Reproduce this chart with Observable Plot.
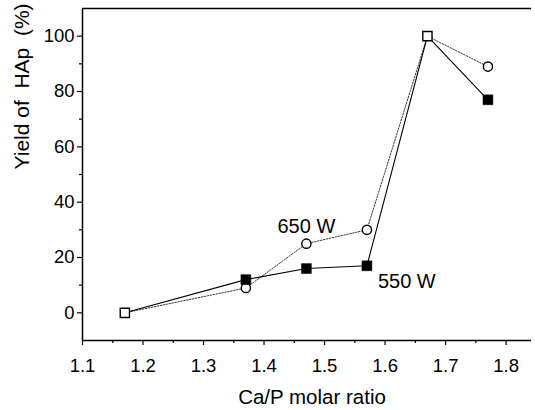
<!DOCTYPE html>
<html>
<head>
<meta charset="utf-8">
<script src="https://cdn.jsdelivr.net/npm/d3@7"></script>
<script src="https://cdn.jsdelivr.net/npm/@observablehq/plot@0.6"></script>
<style>
  html, body { margin: 0; padding: 0; background: #fff; }
  #chart svg { display: block; }
</style>
</head>
<body>
<div id="chart"></div>
<script>
// Data
const ratio = [1.17, 1.37, 1.47, 1.57, 1.67, 1.77];
const yield650 = [0, 9, 25, 30, 100, 89];
const yield550 = [0, 12, 16, 17, 100, 77];
const seriesNames = ["650 W", "550 W"];
const labelX = [1.47, 1.636];
const labelY = [31.2, 11.3];
const xTicks = [1.1, 1.2, 1.3, 1.4, 1.5, 1.6, 1.7, 1.8];
const xMinor = [1.15, 1.25, 1.35, 1.45, 1.55, 1.65, 1.75];
const yTicks = [0, 20, 40, 60, 80, 100];
const yMinor = [10, 30, 50, 70, 90];

const d650 = ratio.map((x, i) => ({x, y: yield650[i]}));
const d550 = ratio.map((x, i) => ({x, y: yield550[i]}));
const shared = ratio.map((x, i) => ({x, y: yield550[i], same: yield550[i] === yield650[i]})).filter(d => d.same);
const only650 = d650.filter((d, i) => yield650[i] !== yield550[i]);
const only550 = d550.filter((d, i) => yield650[i] !== yield550[i]);
const labels = seriesNames.map((t, i) => ({t, x: labelX[i], y: labelY[i]}));

const chart = Plot.plot({
  width: 535,
  height: 410,
  marginLeft: 82,
  marginRight: 4,
  marginTop: 8,
  marginBottom: 70,
  style: {fontFamily: "'Liberation Sans', Arial, sans-serif", background: "#fff", color: "#000"},
  x: {domain: [1.1, 1.842]},
  y: {domain: [-10, 110]},
  marks: [
    Plot.axisX({ticks: xTicks, tickSize: 5, tickPadding: 13, tickFormat: d3.format(".1f"), fontSize: 18.5, label: null, strokeWidth: 1.2}),
    Plot.axisX({ticks: xMinor, tickSize: 3, tickFormat: () => "", label: null, strokeWidth: 1.2}),
    Plot.axisY({ticks: yTicks, tickSize: 5, tickPadding: 3, fontSize: 18.5, label: null, strokeWidth: 1.2}),
    Plot.axisY({ticks: yMinor, tickSize: 3, tickFormat: () => "", label: null, strokeWidth: 1.2}),
    Plot.ruleY([-10, 110], {stroke: "#000", strokeWidth: 1.5}),
    Plot.ruleX([1.1], {stroke: "#000", strokeWidth: 1.5}),
    Plot.line(d650, {x: "x", y: "y", stroke: "#333", strokeWidth: 1, strokeDasharray: "1.5,1.5"}),
    Plot.line(d550, {x: "x", y: "y", stroke: "#000", strokeWidth: 1.1}),
    Plot.dot(only650, {x: "x", y: "y", symbol: "circle", r: 4.6, fill: "#fff", stroke: "#000", strokeWidth: 1.4}),
    Plot.dot(only550, {x: "x", y: "y", symbol: "square", r: 5.6, fill: "#000", stroke: "#000", strokeWidth: 0.5}),
    Plot.dot(shared, {x: "x", y: "y", symbol: "square", r: 5.2, fill: "#fff", stroke: "#000", strokeWidth: 1.4}),
    Plot.text(labels, {x: "x", y: "y", text: "t", fontSize: 20, fill: "#000"}),
    Plot.text(["Ca/P molar ratio"], {frameAnchor: "bottom", dy: 63, dx: 5, fontSize: 20.5, fill: "#000"}),
    Plot.text(["Yield of\u00a0 HAp\u00a0 (%)"], {frameAnchor: "left", dx: -60, dy: -5, rotate: -90, fontSize: 21, fill: "#000"})
  ]
});
document.getElementById("chart").appendChild(chart);
</script>
</body>
</html>
